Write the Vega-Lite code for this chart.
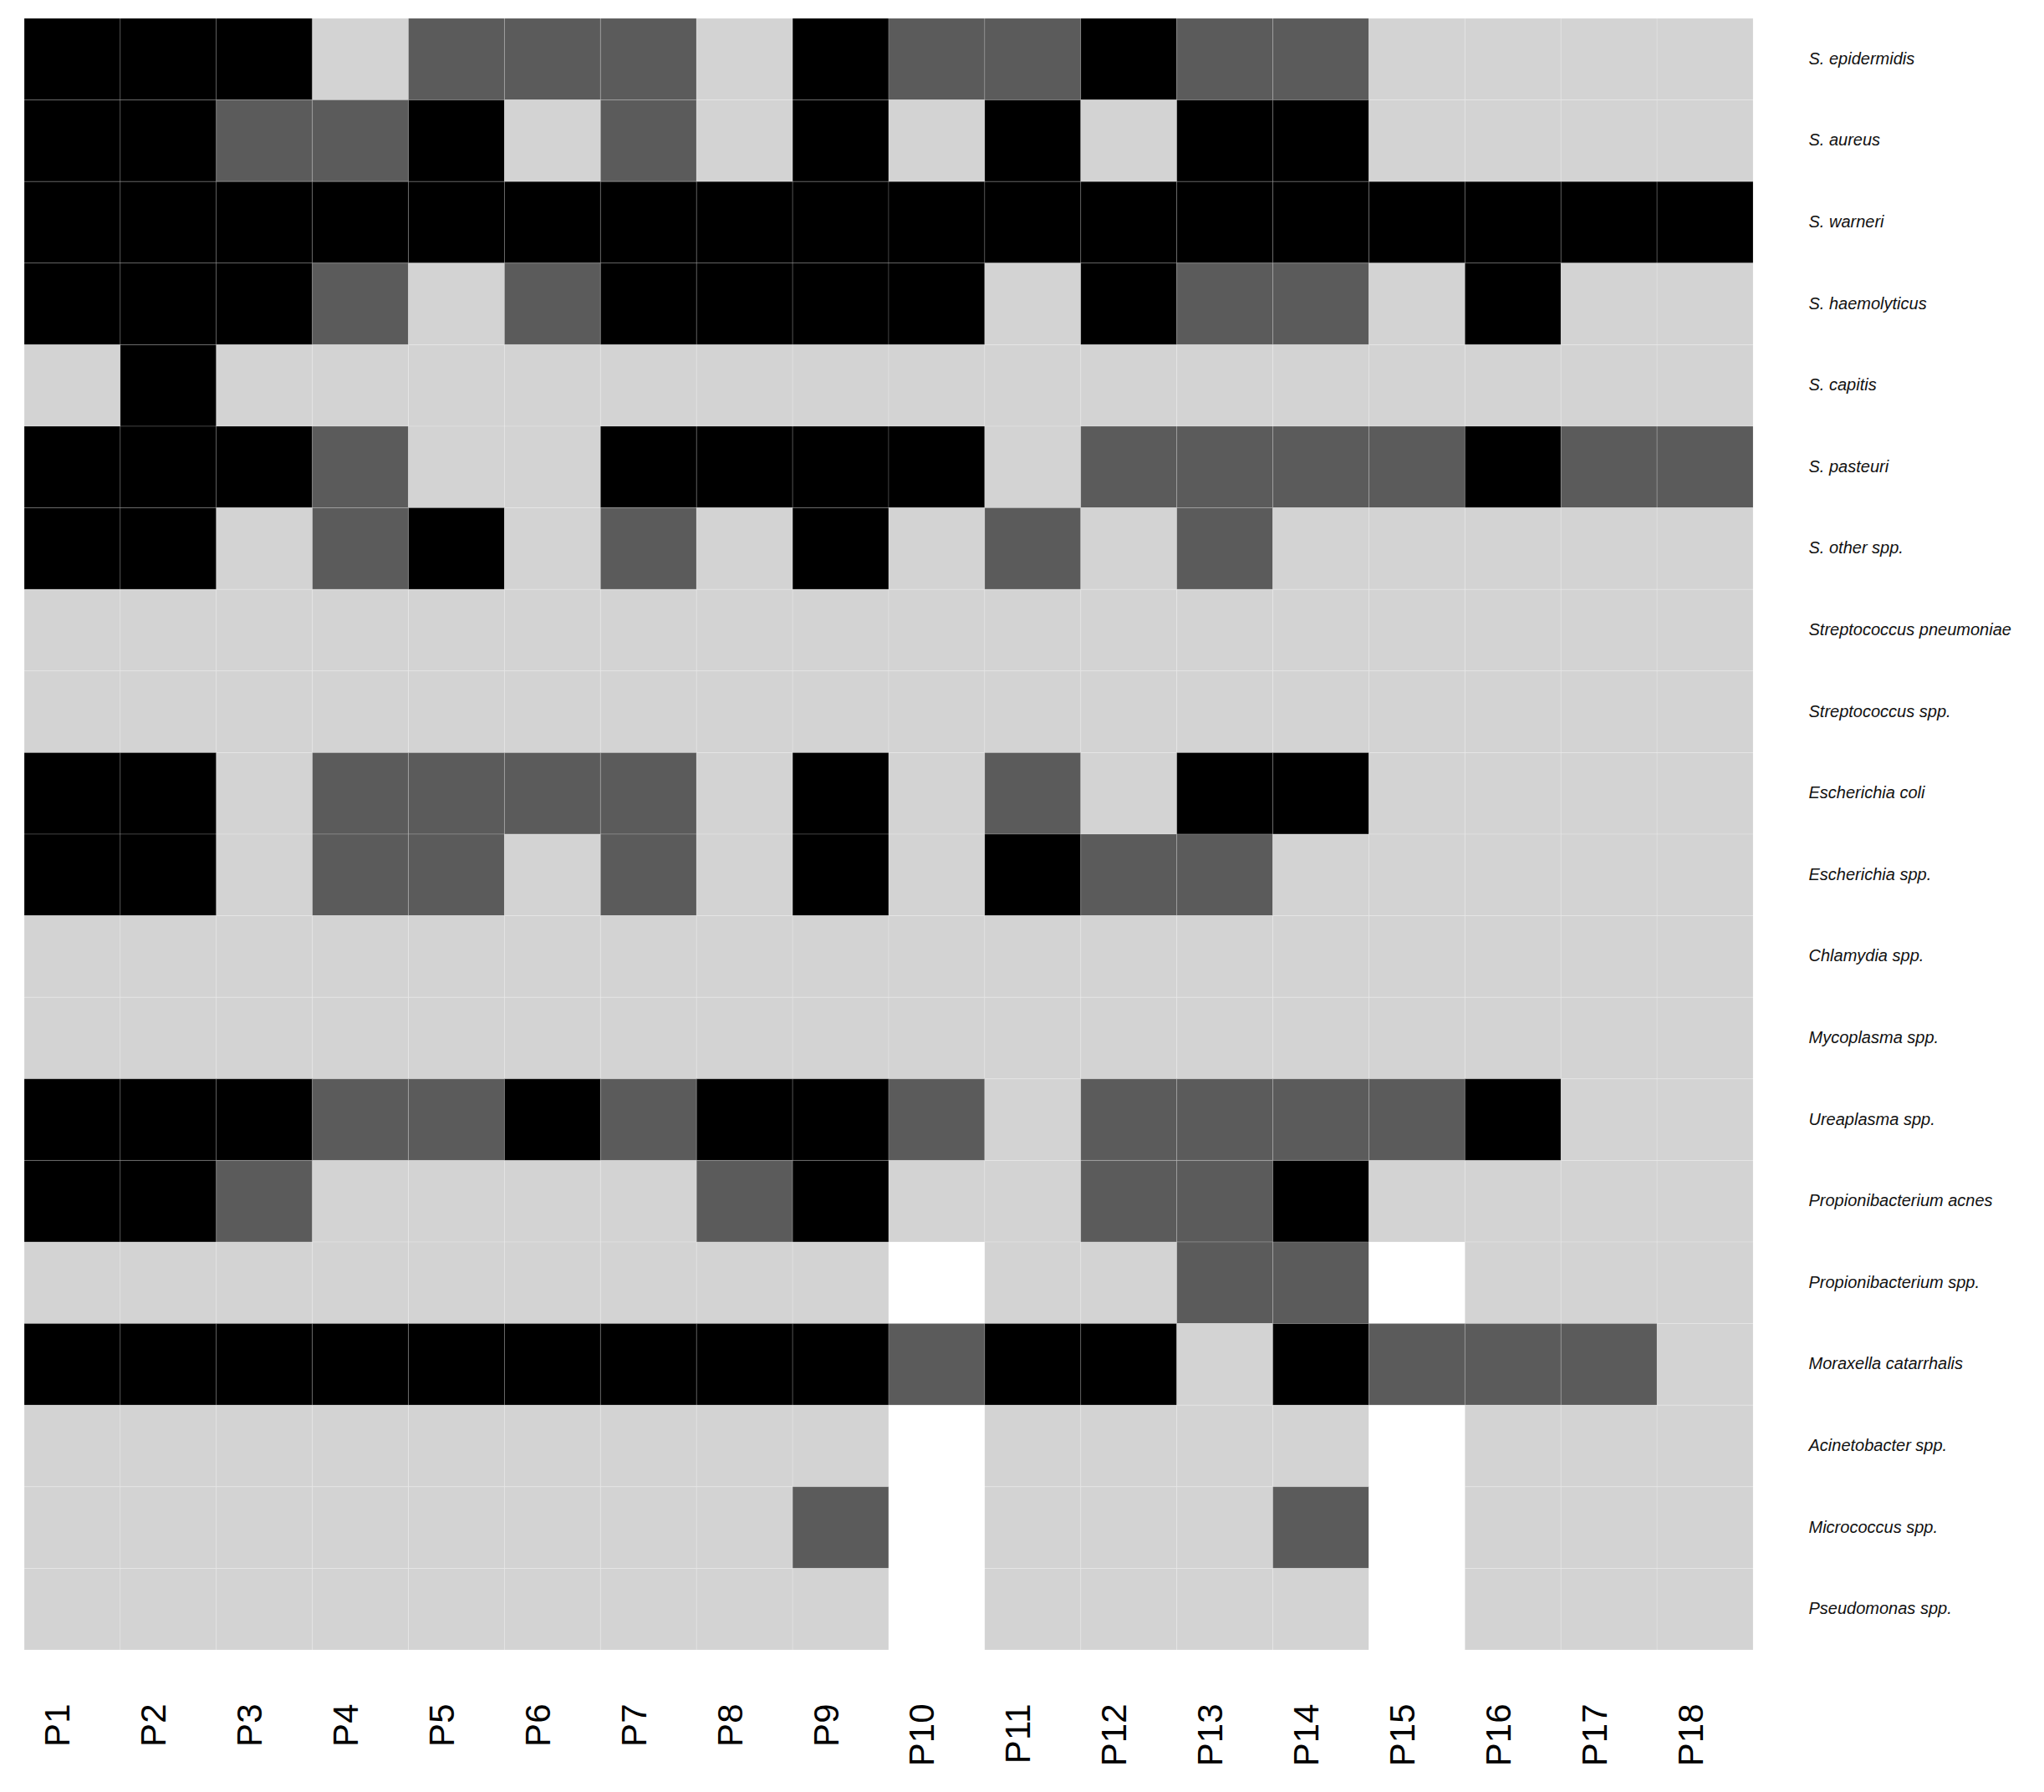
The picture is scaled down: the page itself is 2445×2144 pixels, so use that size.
{
  "$schema": "https://vega.github.io/schema/vega-lite/v6.json",
  "width": 2068,
  "height": 1952,
  "padding": {"left": 28, "top": 21, "right": 0, "bottom": 0},
  "background": "white",
  "config": {"view": {"stroke": null}},
  "data": {"values": [
{"patient":"P1","taxon":"S. epidermidis","level":"high"},{"patient":"P2","taxon":"S. epidermidis","level":"high"},{"patient":"P3","taxon":"S. epidermidis","level":"high"},{"patient":"P4","taxon":"S. epidermidis","level":"low"},{"patient":"P5","taxon":"S. epidermidis","level":"mid"},{"patient":"P6","taxon":"S. epidermidis","level":"mid"},{"patient":"P7","taxon":"S. epidermidis","level":"mid"},{"patient":"P8","taxon":"S. epidermidis","level":"low"},{"patient":"P9","taxon":"S. epidermidis","level":"high"},{"patient":"P10","taxon":"S. epidermidis","level":"mid"},{"patient":"P11","taxon":"S. epidermidis","level":"mid"},{"patient":"P12","taxon":"S. epidermidis","level":"high"},{"patient":"P13","taxon":"S. epidermidis","level":"mid"},{"patient":"P14","taxon":"S. epidermidis","level":"mid"},{"patient":"P15","taxon":"S. epidermidis","level":"low"},{"patient":"P16","taxon":"S. epidermidis","level":"low"},{"patient":"P17","taxon":"S. epidermidis","level":"low"},{"patient":"P18","taxon":"S. epidermidis","level":"low"},
{"patient":"P1","taxon":"S. aureus","level":"high"},{"patient":"P2","taxon":"S. aureus","level":"high"},{"patient":"P3","taxon":"S. aureus","level":"mid"},{"patient":"P4","taxon":"S. aureus","level":"mid"},{"patient":"P5","taxon":"S. aureus","level":"high"},{"patient":"P6","taxon":"S. aureus","level":"low"},{"patient":"P7","taxon":"S. aureus","level":"mid"},{"patient":"P8","taxon":"S. aureus","level":"low"},{"patient":"P9","taxon":"S. aureus","level":"high"},{"patient":"P10","taxon":"S. aureus","level":"low"},{"patient":"P11","taxon":"S. aureus","level":"high"},{"patient":"P12","taxon":"S. aureus","level":"low"},{"patient":"P13","taxon":"S. aureus","level":"high"},{"patient":"P14","taxon":"S. aureus","level":"high"},{"patient":"P15","taxon":"S. aureus","level":"low"},{"patient":"P16","taxon":"S. aureus","level":"low"},{"patient":"P17","taxon":"S. aureus","level":"low"},{"patient":"P18","taxon":"S. aureus","level":"low"},
{"patient":"P1","taxon":"S. warneri","level":"high"},{"patient":"P2","taxon":"S. warneri","level":"high"},{"patient":"P3","taxon":"S. warneri","level":"high"},{"patient":"P4","taxon":"S. warneri","level":"high"},{"patient":"P5","taxon":"S. warneri","level":"high"},{"patient":"P6","taxon":"S. warneri","level":"high"},{"patient":"P7","taxon":"S. warneri","level":"high"},{"patient":"P8","taxon":"S. warneri","level":"high"},{"patient":"P9","taxon":"S. warneri","level":"high"},{"patient":"P10","taxon":"S. warneri","level":"high"},{"patient":"P11","taxon":"S. warneri","level":"high"},{"patient":"P12","taxon":"S. warneri","level":"high"},{"patient":"P13","taxon":"S. warneri","level":"high"},{"patient":"P14","taxon":"S. warneri","level":"high"},{"patient":"P15","taxon":"S. warneri","level":"high"},{"patient":"P16","taxon":"S. warneri","level":"high"},{"patient":"P17","taxon":"S. warneri","level":"high"},{"patient":"P18","taxon":"S. warneri","level":"high"},
{"patient":"P1","taxon":"S. haemolyticus","level":"high"},{"patient":"P2","taxon":"S. haemolyticus","level":"high"},{"patient":"P3","taxon":"S. haemolyticus","level":"high"},{"patient":"P4","taxon":"S. haemolyticus","level":"mid"},{"patient":"P5","taxon":"S. haemolyticus","level":"low"},{"patient":"P6","taxon":"S. haemolyticus","level":"mid"},{"patient":"P7","taxon":"S. haemolyticus","level":"high"},{"patient":"P8","taxon":"S. haemolyticus","level":"high"},{"patient":"P9","taxon":"S. haemolyticus","level":"high"},{"patient":"P10","taxon":"S. haemolyticus","level":"high"},{"patient":"P11","taxon":"S. haemolyticus","level":"low"},{"patient":"P12","taxon":"S. haemolyticus","level":"high"},{"patient":"P13","taxon":"S. haemolyticus","level":"mid"},{"patient":"P14","taxon":"S. haemolyticus","level":"mid"},{"patient":"P15","taxon":"S. haemolyticus","level":"low"},{"patient":"P16","taxon":"S. haemolyticus","level":"high"},{"patient":"P17","taxon":"S. haemolyticus","level":"low"},{"patient":"P18","taxon":"S. haemolyticus","level":"low"},
{"patient":"P1","taxon":"S. capitis","level":"low"},{"patient":"P2","taxon":"S. capitis","level":"high"},{"patient":"P3","taxon":"S. capitis","level":"low"},{"patient":"P4","taxon":"S. capitis","level":"low"},{"patient":"P5","taxon":"S. capitis","level":"low"},{"patient":"P6","taxon":"S. capitis","level":"low"},{"patient":"P7","taxon":"S. capitis","level":"low"},{"patient":"P8","taxon":"S. capitis","level":"low"},{"patient":"P9","taxon":"S. capitis","level":"low"},{"patient":"P10","taxon":"S. capitis","level":"low"},{"patient":"P11","taxon":"S. capitis","level":"low"},{"patient":"P12","taxon":"S. capitis","level":"low"},{"patient":"P13","taxon":"S. capitis","level":"low"},{"patient":"P14","taxon":"S. capitis","level":"low"},{"patient":"P15","taxon":"S. capitis","level":"low"},{"patient":"P16","taxon":"S. capitis","level":"low"},{"patient":"P17","taxon":"S. capitis","level":"low"},{"patient":"P18","taxon":"S. capitis","level":"low"},
{"patient":"P1","taxon":"S. pasteuri","level":"high"},{"patient":"P2","taxon":"S. pasteuri","level":"high"},{"patient":"P3","taxon":"S. pasteuri","level":"high"},{"patient":"P4","taxon":"S. pasteuri","level":"mid"},{"patient":"P5","taxon":"S. pasteuri","level":"low"},{"patient":"P6","taxon":"S. pasteuri","level":"low"},{"patient":"P7","taxon":"S. pasteuri","level":"high"},{"patient":"P8","taxon":"S. pasteuri","level":"high"},{"patient":"P9","taxon":"S. pasteuri","level":"high"},{"patient":"P10","taxon":"S. pasteuri","level":"high"},{"patient":"P11","taxon":"S. pasteuri","level":"low"},{"patient":"P12","taxon":"S. pasteuri","level":"mid"},{"patient":"P13","taxon":"S. pasteuri","level":"mid"},{"patient":"P14","taxon":"S. pasteuri","level":"mid"},{"patient":"P15","taxon":"S. pasteuri","level":"mid"},{"patient":"P16","taxon":"S. pasteuri","level":"high"},{"patient":"P17","taxon":"S. pasteuri","level":"mid"},{"patient":"P18","taxon":"S. pasteuri","level":"mid"},
{"patient":"P1","taxon":"S. other spp.","level":"high"},{"patient":"P2","taxon":"S. other spp.","level":"high"},{"patient":"P3","taxon":"S. other spp.","level":"low"},{"patient":"P4","taxon":"S. other spp.","level":"mid"},{"patient":"P5","taxon":"S. other spp.","level":"high"},{"patient":"P6","taxon":"S. other spp.","level":"low"},{"patient":"P7","taxon":"S. other spp.","level":"mid"},{"patient":"P8","taxon":"S. other spp.","level":"low"},{"patient":"P9","taxon":"S. other spp.","level":"high"},{"patient":"P10","taxon":"S. other spp.","level":"low"},{"patient":"P11","taxon":"S. other spp.","level":"mid"},{"patient":"P12","taxon":"S. other spp.","level":"low"},{"patient":"P13","taxon":"S. other spp.","level":"mid"},{"patient":"P14","taxon":"S. other spp.","level":"low"},{"patient":"P15","taxon":"S. other spp.","level":"low"},{"patient":"P16","taxon":"S. other spp.","level":"low"},{"patient":"P17","taxon":"S. other spp.","level":"low"},{"patient":"P18","taxon":"S. other spp.","level":"low"},
{"patient":"P1","taxon":"Streptococcus pneumoniae","level":"low"},{"patient":"P2","taxon":"Streptococcus pneumoniae","level":"low"},{"patient":"P3","taxon":"Streptococcus pneumoniae","level":"low"},{"patient":"P4","taxon":"Streptococcus pneumoniae","level":"low"},{"patient":"P5","taxon":"Streptococcus pneumoniae","level":"low"},{"patient":"P6","taxon":"Streptococcus pneumoniae","level":"low"},{"patient":"P7","taxon":"Streptococcus pneumoniae","level":"low"},{"patient":"P8","taxon":"Streptococcus pneumoniae","level":"low"},{"patient":"P9","taxon":"Streptococcus pneumoniae","level":"low"},{"patient":"P10","taxon":"Streptococcus pneumoniae","level":"low"},{"patient":"P11","taxon":"Streptococcus pneumoniae","level":"low"},{"patient":"P12","taxon":"Streptococcus pneumoniae","level":"low"},{"patient":"P13","taxon":"Streptococcus pneumoniae","level":"low"},{"patient":"P14","taxon":"Streptococcus pneumoniae","level":"low"},{"patient":"P15","taxon":"Streptococcus pneumoniae","level":"low"},{"patient":"P16","taxon":"Streptococcus pneumoniae","level":"low"},{"patient":"P17","taxon":"Streptococcus pneumoniae","level":"low"},{"patient":"P18","taxon":"Streptococcus pneumoniae","level":"low"},
{"patient":"P1","taxon":"Streptococcus spp.","level":"low"},{"patient":"P2","taxon":"Streptococcus spp.","level":"low"},{"patient":"P3","taxon":"Streptococcus spp.","level":"low"},{"patient":"P4","taxon":"Streptococcus spp.","level":"low"},{"patient":"P5","taxon":"Streptococcus spp.","level":"low"},{"patient":"P6","taxon":"Streptococcus spp.","level":"low"},{"patient":"P7","taxon":"Streptococcus spp.","level":"low"},{"patient":"P8","taxon":"Streptococcus spp.","level":"low"},{"patient":"P9","taxon":"Streptococcus spp.","level":"low"},{"patient":"P10","taxon":"Streptococcus spp.","level":"low"},{"patient":"P11","taxon":"Streptococcus spp.","level":"low"},{"patient":"P12","taxon":"Streptococcus spp.","level":"low"},{"patient":"P13","taxon":"Streptococcus spp.","level":"low"},{"patient":"P14","taxon":"Streptococcus spp.","level":"low"},{"patient":"P15","taxon":"Streptococcus spp.","level":"low"},{"patient":"P16","taxon":"Streptococcus spp.","level":"low"},{"patient":"P17","taxon":"Streptococcus spp.","level":"low"},{"patient":"P18","taxon":"Streptococcus spp.","level":"low"},
{"patient":"P1","taxon":"Escherichia coli","level":"high"},{"patient":"P2","taxon":"Escherichia coli","level":"high"},{"patient":"P3","taxon":"Escherichia coli","level":"low"},{"patient":"P4","taxon":"Escherichia coli","level":"mid"},{"patient":"P5","taxon":"Escherichia coli","level":"mid"},{"patient":"P6","taxon":"Escherichia coli","level":"mid"},{"patient":"P7","taxon":"Escherichia coli","level":"mid"},{"patient":"P8","taxon":"Escherichia coli","level":"low"},{"patient":"P9","taxon":"Escherichia coli","level":"high"},{"patient":"P10","taxon":"Escherichia coli","level":"low"},{"patient":"P11","taxon":"Escherichia coli","level":"mid"},{"patient":"P12","taxon":"Escherichia coli","level":"low"},{"patient":"P13","taxon":"Escherichia coli","level":"high"},{"patient":"P14","taxon":"Escherichia coli","level":"high"},{"patient":"P15","taxon":"Escherichia coli","level":"low"},{"patient":"P16","taxon":"Escherichia coli","level":"low"},{"patient":"P17","taxon":"Escherichia coli","level":"low"},{"patient":"P18","taxon":"Escherichia coli","level":"low"},
{"patient":"P1","taxon":"Escherichia spp.","level":"high"},{"patient":"P2","taxon":"Escherichia spp.","level":"high"},{"patient":"P3","taxon":"Escherichia spp.","level":"low"},{"patient":"P4","taxon":"Escherichia spp.","level":"mid"},{"patient":"P5","taxon":"Escherichia spp.","level":"mid"},{"patient":"P6","taxon":"Escherichia spp.","level":"low"},{"patient":"P7","taxon":"Escherichia spp.","level":"mid"},{"patient":"P8","taxon":"Escherichia spp.","level":"low"},{"patient":"P9","taxon":"Escherichia spp.","level":"high"},{"patient":"P10","taxon":"Escherichia spp.","level":"low"},{"patient":"P11","taxon":"Escherichia spp.","level":"high"},{"patient":"P12","taxon":"Escherichia spp.","level":"mid"},{"patient":"P13","taxon":"Escherichia spp.","level":"mid"},{"patient":"P14","taxon":"Escherichia spp.","level":"low"},{"patient":"P15","taxon":"Escherichia spp.","level":"low"},{"patient":"P16","taxon":"Escherichia spp.","level":"low"},{"patient":"P17","taxon":"Escherichia spp.","level":"low"},{"patient":"P18","taxon":"Escherichia spp.","level":"low"},
{"patient":"P1","taxon":"Chlamydia spp.","level":"low"},{"patient":"P2","taxon":"Chlamydia spp.","level":"low"},{"patient":"P3","taxon":"Chlamydia spp.","level":"low"},{"patient":"P4","taxon":"Chlamydia spp.","level":"low"},{"patient":"P5","taxon":"Chlamydia spp.","level":"low"},{"patient":"P6","taxon":"Chlamydia spp.","level":"low"},{"patient":"P7","taxon":"Chlamydia spp.","level":"low"},{"patient":"P8","taxon":"Chlamydia spp.","level":"low"},{"patient":"P9","taxon":"Chlamydia spp.","level":"low"},{"patient":"P10","taxon":"Chlamydia spp.","level":"low"},{"patient":"P11","taxon":"Chlamydia spp.","level":"low"},{"patient":"P12","taxon":"Chlamydia spp.","level":"low"},{"patient":"P13","taxon":"Chlamydia spp.","level":"low"},{"patient":"P14","taxon":"Chlamydia spp.","level":"low"},{"patient":"P15","taxon":"Chlamydia spp.","level":"low"},{"patient":"P16","taxon":"Chlamydia spp.","level":"low"},{"patient":"P17","taxon":"Chlamydia spp.","level":"low"},{"patient":"P18","taxon":"Chlamydia spp.","level":"low"},
{"patient":"P1","taxon":"Mycoplasma spp.","level":"low"},{"patient":"P2","taxon":"Mycoplasma spp.","level":"low"},{"patient":"P3","taxon":"Mycoplasma spp.","level":"low"},{"patient":"P4","taxon":"Mycoplasma spp.","level":"low"},{"patient":"P5","taxon":"Mycoplasma spp.","level":"low"},{"patient":"P6","taxon":"Mycoplasma spp.","level":"low"},{"patient":"P7","taxon":"Mycoplasma spp.","level":"low"},{"patient":"P8","taxon":"Mycoplasma spp.","level":"low"},{"patient":"P9","taxon":"Mycoplasma spp.","level":"low"},{"patient":"P10","taxon":"Mycoplasma spp.","level":"low"},{"patient":"P11","taxon":"Mycoplasma spp.","level":"low"},{"patient":"P12","taxon":"Mycoplasma spp.","level":"low"},{"patient":"P13","taxon":"Mycoplasma spp.","level":"low"},{"patient":"P14","taxon":"Mycoplasma spp.","level":"low"},{"patient":"P15","taxon":"Mycoplasma spp.","level":"low"},{"patient":"P16","taxon":"Mycoplasma spp.","level":"low"},{"patient":"P17","taxon":"Mycoplasma spp.","level":"low"},{"patient":"P18","taxon":"Mycoplasma spp.","level":"low"},
{"patient":"P1","taxon":"Ureaplasma spp.","level":"high"},{"patient":"P2","taxon":"Ureaplasma spp.","level":"high"},{"patient":"P3","taxon":"Ureaplasma spp.","level":"high"},{"patient":"P4","taxon":"Ureaplasma spp.","level":"mid"},{"patient":"P5","taxon":"Ureaplasma spp.","level":"mid"},{"patient":"P6","taxon":"Ureaplasma spp.","level":"high"},{"patient":"P7","taxon":"Ureaplasma spp.","level":"mid"},{"patient":"P8","taxon":"Ureaplasma spp.","level":"high"},{"patient":"P9","taxon":"Ureaplasma spp.","level":"high"},{"patient":"P10","taxon":"Ureaplasma spp.","level":"mid"},{"patient":"P11","taxon":"Ureaplasma spp.","level":"low"},{"patient":"P12","taxon":"Ureaplasma spp.","level":"mid"},{"patient":"P13","taxon":"Ureaplasma spp.","level":"mid"},{"patient":"P14","taxon":"Ureaplasma spp.","level":"mid"},{"patient":"P15","taxon":"Ureaplasma spp.","level":"mid"},{"patient":"P16","taxon":"Ureaplasma spp.","level":"high"},{"patient":"P17","taxon":"Ureaplasma spp.","level":"low"},{"patient":"P18","taxon":"Ureaplasma spp.","level":"low"},
{"patient":"P1","taxon":"Propionibacterium acnes","level":"high"},{"patient":"P2","taxon":"Propionibacterium acnes","level":"high"},{"patient":"P3","taxon":"Propionibacterium acnes","level":"mid"},{"patient":"P4","taxon":"Propionibacterium acnes","level":"low"},{"patient":"P5","taxon":"Propionibacterium acnes","level":"low"},{"patient":"P6","taxon":"Propionibacterium acnes","level":"low"},{"patient":"P7","taxon":"Propionibacterium acnes","level":"low"},{"patient":"P8","taxon":"Propionibacterium acnes","level":"mid"},{"patient":"P9","taxon":"Propionibacterium acnes","level":"high"},{"patient":"P10","taxon":"Propionibacterium acnes","level":"low"},{"patient":"P11","taxon":"Propionibacterium acnes","level":"low"},{"patient":"P12","taxon":"Propionibacterium acnes","level":"mid"},{"patient":"P13","taxon":"Propionibacterium acnes","level":"mid"},{"patient":"P14","taxon":"Propionibacterium acnes","level":"high"},{"patient":"P15","taxon":"Propionibacterium acnes","level":"low"},{"patient":"P16","taxon":"Propionibacterium acnes","level":"low"},{"patient":"P17","taxon":"Propionibacterium acnes","level":"low"},{"patient":"P18","taxon":"Propionibacterium acnes","level":"low"},
{"patient":"P1","taxon":"Propionibacterium spp.","level":"low"},{"patient":"P2","taxon":"Propionibacterium spp.","level":"low"},{"patient":"P3","taxon":"Propionibacterium spp.","level":"low"},{"patient":"P4","taxon":"Propionibacterium spp.","level":"low"},{"patient":"P5","taxon":"Propionibacterium spp.","level":"low"},{"patient":"P6","taxon":"Propionibacterium spp.","level":"low"},{"patient":"P7","taxon":"Propionibacterium spp.","level":"low"},{"patient":"P8","taxon":"Propionibacterium spp.","level":"low"},{"patient":"P9","taxon":"Propionibacterium spp.","level":"low"},{"patient":"P10","taxon":"Propionibacterium spp.","level":"NA"},{"patient":"P11","taxon":"Propionibacterium spp.","level":"low"},{"patient":"P12","taxon":"Propionibacterium spp.","level":"low"},{"patient":"P13","taxon":"Propionibacterium spp.","level":"mid"},{"patient":"P14","taxon":"Propionibacterium spp.","level":"mid"},{"patient":"P15","taxon":"Propionibacterium spp.","level":"NA"},{"patient":"P16","taxon":"Propionibacterium spp.","level":"low"},{"patient":"P17","taxon":"Propionibacterium spp.","level":"low"},{"patient":"P18","taxon":"Propionibacterium spp.","level":"low"},
{"patient":"P1","taxon":"Moraxella catarrhalis","level":"high"},{"patient":"P2","taxon":"Moraxella catarrhalis","level":"high"},{"patient":"P3","taxon":"Moraxella catarrhalis","level":"high"},{"patient":"P4","taxon":"Moraxella catarrhalis","level":"high"},{"patient":"P5","taxon":"Moraxella catarrhalis","level":"high"},{"patient":"P6","taxon":"Moraxella catarrhalis","level":"high"},{"patient":"P7","taxon":"Moraxella catarrhalis","level":"high"},{"patient":"P8","taxon":"Moraxella catarrhalis","level":"high"},{"patient":"P9","taxon":"Moraxella catarrhalis","level":"high"},{"patient":"P10","taxon":"Moraxella catarrhalis","level":"mid"},{"patient":"P11","taxon":"Moraxella catarrhalis","level":"high"},{"patient":"P12","taxon":"Moraxella catarrhalis","level":"high"},{"patient":"P13","taxon":"Moraxella catarrhalis","level":"low"},{"patient":"P14","taxon":"Moraxella catarrhalis","level":"high"},{"patient":"P15","taxon":"Moraxella catarrhalis","level":"mid"},{"patient":"P16","taxon":"Moraxella catarrhalis","level":"mid"},{"patient":"P17","taxon":"Moraxella catarrhalis","level":"mid"},{"patient":"P18","taxon":"Moraxella catarrhalis","level":"low"},
{"patient":"P1","taxon":"Acinetobacter spp.","level":"low"},{"patient":"P2","taxon":"Acinetobacter spp.","level":"low"},{"patient":"P3","taxon":"Acinetobacter spp.","level":"low"},{"patient":"P4","taxon":"Acinetobacter spp.","level":"low"},{"patient":"P5","taxon":"Acinetobacter spp.","level":"low"},{"patient":"P6","taxon":"Acinetobacter spp.","level":"low"},{"patient":"P7","taxon":"Acinetobacter spp.","level":"low"},{"patient":"P8","taxon":"Acinetobacter spp.","level":"low"},{"patient":"P9","taxon":"Acinetobacter spp.","level":"low"},{"patient":"P10","taxon":"Acinetobacter spp.","level":"NA"},{"patient":"P11","taxon":"Acinetobacter spp.","level":"low"},{"patient":"P12","taxon":"Acinetobacter spp.","level":"low"},{"patient":"P13","taxon":"Acinetobacter spp.","level":"low"},{"patient":"P14","taxon":"Acinetobacter spp.","level":"low"},{"patient":"P15","taxon":"Acinetobacter spp.","level":"NA"},{"patient":"P16","taxon":"Acinetobacter spp.","level":"low"},{"patient":"P17","taxon":"Acinetobacter spp.","level":"low"},{"patient":"P18","taxon":"Acinetobacter spp.","level":"low"},
{"patient":"P1","taxon":"Micrococcus spp.","level":"low"},{"patient":"P2","taxon":"Micrococcus spp.","level":"low"},{"patient":"P3","taxon":"Micrococcus spp.","level":"low"},{"patient":"P4","taxon":"Micrococcus spp.","level":"low"},{"patient":"P5","taxon":"Micrococcus spp.","level":"low"},{"patient":"P6","taxon":"Micrococcus spp.","level":"low"},{"patient":"P7","taxon":"Micrococcus spp.","level":"low"},{"patient":"P8","taxon":"Micrococcus spp.","level":"low"},{"patient":"P9","taxon":"Micrococcus spp.","level":"mid"},{"patient":"P10","taxon":"Micrococcus spp.","level":"NA"},{"patient":"P11","taxon":"Micrococcus spp.","level":"low"},{"patient":"P12","taxon":"Micrococcus spp.","level":"low"},{"patient":"P13","taxon":"Micrococcus spp.","level":"low"},{"patient":"P14","taxon":"Micrococcus spp.","level":"mid"},{"patient":"P15","taxon":"Micrococcus spp.","level":"NA"},{"patient":"P16","taxon":"Micrococcus spp.","level":"low"},{"patient":"P17","taxon":"Micrococcus spp.","level":"low"},{"patient":"P18","taxon":"Micrococcus spp.","level":"low"},
{"patient":"P1","taxon":"Pseudomonas spp.","level":"low"},{"patient":"P2","taxon":"Pseudomonas spp.","level":"low"},{"patient":"P3","taxon":"Pseudomonas spp.","level":"low"},{"patient":"P4","taxon":"Pseudomonas spp.","level":"low"},{"patient":"P5","taxon":"Pseudomonas spp.","level":"low"},{"patient":"P6","taxon":"Pseudomonas spp.","level":"low"},{"patient":"P7","taxon":"Pseudomonas spp.","level":"low"},{"patient":"P8","taxon":"Pseudomonas spp.","level":"low"},{"patient":"P9","taxon":"Pseudomonas spp.","level":"low"},{"patient":"P10","taxon":"Pseudomonas spp.","level":"NA"},{"patient":"P11","taxon":"Pseudomonas spp.","level":"low"},{"patient":"P12","taxon":"Pseudomonas spp.","level":"low"},{"patient":"P13","taxon":"Pseudomonas spp.","level":"low"},{"patient":"P14","taxon":"Pseudomonas spp.","level":"low"},{"patient":"P15","taxon":"Pseudomonas spp.","level":"NA"},{"patient":"P16","taxon":"Pseudomonas spp.","level":"low"},{"patient":"P17","taxon":"Pseudomonas spp.","level":"low"},{"patient":"P18","taxon":"Pseudomonas spp.","level":"low"}
  ]},
  "mark": {"type": "rect", "stroke": "#ffffff", "strokeOpacity": 0.18, "strokeWidth": 1},
  "encoding": {
    "x": {
      "field": "patient", "type": "nominal",
      "sort": ["P1","P2","P3","P4","P5","P6","P7","P8","P9","P10","P11","P12","P13","P14","P15","P16","P17","P18"],
      "scale": {"paddingInner": 0, "paddingOuter": 0},
      "axis": {"orient": "bottom", "title": null, "domain": false, "ticks": false, "grid": false,
               "labelAngle": 270, "labelAlign": "right", "labelBaseline": "middle",
               "labelPadding": 64, "labelOffset": -16,
               "labelFont": "Liberation Sans", "labelFontSize": 42, "labelColor": "#000000"}
    },
    "y": {
      "field": "taxon", "type": "nominal",
      "sort": ["S. epidermidis","S. aureus","S. warneri","S. haemolyticus","S. capitis","S. pasteuri","S. other spp.","Streptococcus pneumoniae","Streptococcus spp.","Escherichia coli","Escherichia spp.","Chlamydia spp.","Mycoplasma spp.","Ureaplasma spp.","Propionibacterium acnes","Propionibacterium spp.","Moraxella catarrhalis","Acinetobacter spp.","Micrococcus spp.","Pseudomonas spp."],
      "scale": {"paddingInner": 0, "paddingOuter": 0},
      "axis": {"orient": "right", "title": null, "domain": false, "ticks": false, "grid": false,
               "labelAlign": "left", "labelBaseline": "middle", "labelPadding": 66,
               "labelFont": "Liberation Sans", "labelFontStyle": "italic", "labelFontSize": 20,
               "labelColor": "#111111", "labelLimit": 0}
    },
    "color": {
      "field": "level", "type": "nominal",
      "scale": {"domain": ["high","mid","low","NA"], "range": ["#000000","#5b5b5b","#d3d3d3","#ffffff"]},
      "legend": null
    }
  }
}
